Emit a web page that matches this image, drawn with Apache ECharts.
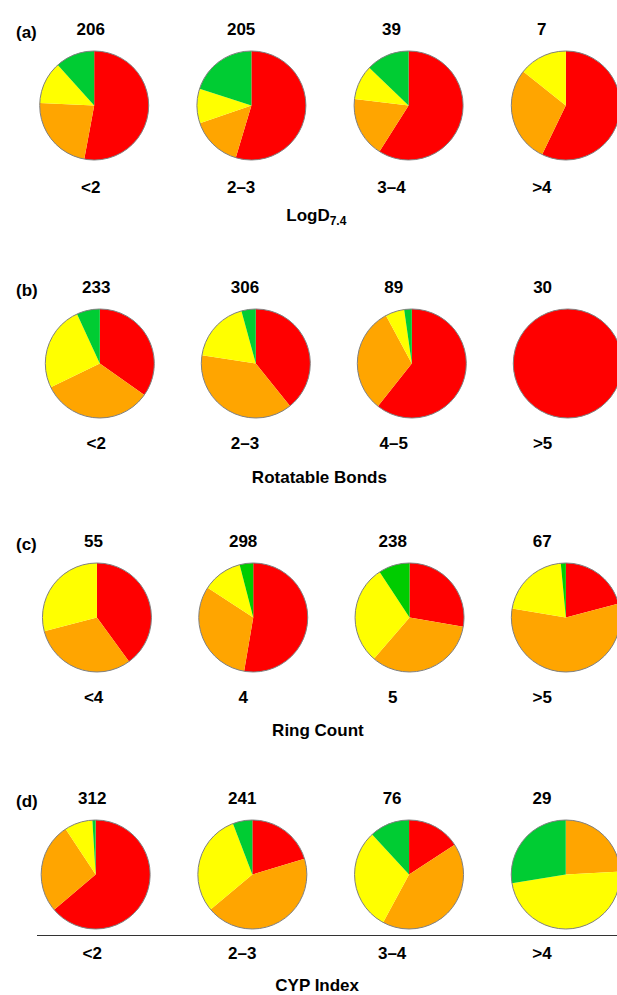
<!DOCTYPE html>
<html>
<head>
<meta charset="utf-8">
<script src="https://cdn.jsdelivr.net/npm/echarts@6/dist/echarts.min.js"></script>
<style>
  html, body { margin: 0; padding: 0; background: #fff; }
  #chart { width: 617px; height: 995px; }
</style>
</head>
<body>
<div id="chart"></div>
<script>
// Compound counts per bin, split by outcome class (red, orange, yellow, green)
const logDBins = ['<2', '2–3', '3–4', '>4'];
const logDRed    = [109, 112, 23, 4];
const logDOrange = [47, 31, 7, 2];
const logDYellow = [26, 21, 4, 1];
const logDGreen  = [24, 41, 5, 0];

const rotBins = ['<2', '2–3', '4–5', '>5'];
const rotRed    = [81, 120, 54, 30];
const rotOrange = [77, 117, 28, 0];
const rotYellow = [59, 56, 5, 0];
const rotGreen  = [16, 13, 2, 0];

const ringBins = ['<4', '4', '5', '>5'];
const ringRed    = [22, 157, 66, 14];
const ringOrange = [17, 94, 80, 38];
const ringYellow = [16, 35, 70, 14];
const ringGreen  = [0, 12, 22, 1];

const cypBins = ['<2', '2–3', '3–4', '>4'];
const cypRed    = [199, 49, 12, 0];
const cypOrange = [84, 105, 32, 7];
const cypYellow = [26, 73, 23, 14];
const cypGreen  = [3, 14, 9, 8];

const panelLetters = ['(a)', '(b)', '(c)', '(d)'];
const axisTitles = ['{t|LogD}{s|7.4}', 'Rotatable Bonds', 'Ring Count', 'CYP Index'];

const rows = [
  { bins: logDBins, red: logDRed, orange: logDOrange, yellow: logDYellow, green: logDGreen,
    greenColor: '#00CC33', left: 15.6, step: 157.2, top: 42.5, axisY: 166.5, letterTop: 19, nameGap: 37 },
  { bins: rotBins, red: rotRed, orange: rotOrange, yellow: rotYellow, green: rotGreen,
    greenColor: '#00CC33', left: 21.8, step: 156, top: 300.5, axisY: 422.5, letterTop: 277, nameGap: 46 },
  { bins: ringBins, red: ringRed, orange: ringOrange, yellow: ringYellow, green: ringGreen,
    greenColor: '#00CC00', left: 18.8, step: 156.3, top: 554.5, axisY: 676.5, letterTop: 531, nameGap: 45 },
  { bins: cypBins, red: cypRed, orange: cypOrange, yellow: cypYellow, green: cypGreen,
    greenColor: '#00CC33', left: 17.3, step: 156.7, top: 811.5, axisY: 935.5, letterTop: 788, nameGap: 44 }
];

const W = 617, H = 995;
const FONT = 'Liberation Sans, Arial, sans-serif';
const PIE_R = 54.5;

const grids = [], xAxes = [], yAxes = [], series = [], titles = [];

rows.forEach((row, r) => {
  const width = row.step * 4;
  grids.push({
    left: row.left,
    top: row.top,
    width: width,
    height: row.axisY - row.top,
    containLabel: false
  });
  const totals = row.bins.map((_, i) =>
    row.red[i] + row.orange[i] + row.yellow[i] + row.green[i]);

  // bottom axis: bin labels and the variable name
  xAxes.push({
    type: 'category', gridIndex: r, position: 'bottom', data: row.bins,
    axisLine: { show: false }, axisTick: { show: false },
    axisLabel: { margin: 12, fontFamily: FONT, fontWeight: 'bold', fontSize: 17, color: '#000' },
    name: axisTitles[r], nameLocation: 'middle', nameGap: row.nameGap,
    nameTextStyle: {
      fontFamily: FONT, fontWeight: 'bold', fontSize: 17, color: '#000',
      rich: {
        t: { fontFamily: FONT, fontWeight: 'bold', fontSize: 17, color: '#000' },
        s: { fontFamily: FONT, fontWeight: 'bold', fontSize: 12, color: '#000', padding: [11, 0, 0, 0] }
      }
    }
  });
  // top axis: number of compounds in each bin
  xAxes.push({
    type: 'category', gridIndex: r, position: 'top', data: totals.map(String),
    axisLine: { show: false }, axisTick: { show: false },
    axisLabel: { margin: 5, fontFamily: FONT, fontWeight: 'bold', fontSize: 17, color: '#000' }
  });
  yAxes.push({ type: 'value', gridIndex: r, show: false });

  titles.push({
    text: panelLetters[r], left: 11, top: row.letterTop,
    textStyle: { fontFamily: FONT, fontWeight: 'bold', fontSize: 17, color: '#000' }
  });

  row.bins.forEach((bin, i) => {
    const cx = row.left + (i + 0.5) * row.step;
    const cy = row.top + 63;
    series.push({
      type: 'pie', radius: [0, PIE_R], center: [cx, cy],
      startAngle: 90, clockwise: true, silent: true, animation: false,
      label: { show: false }, labelLine: { show: false },
      itemStyle: { borderWidth: 0 },
      data: [
        { name: 'red', value: row.red[i], itemStyle: { color: '#FF0000' } },
        { name: 'orange', value: row.orange[i], itemStyle: { color: '#FFA500' } },
        { name: 'yellow', value: row.yellow[i], itemStyle: { color: '#FFFF00' } },
        { name: 'green', value: row.green[i], itemStyle: { color: row.greenColor } }
      ]
    });
    // thin grey rim
    series.push({
      type: 'pie', radius: [0, PIE_R], center: [cx, cy],
      silent: true, animation: false,
      label: { show: false }, labelLine: { show: false },
      itemStyle: { color: 'rgba(0,0,0,0)', borderColor: '#808080', borderWidth: 1 },
      data: [{ name: 'rim', value: totals[i] }]
    });
  });
});

const chart = echarts.init(document.getElementById('chart'), null, { renderer: 'svg', width: W, height: H });
chart.setOption({
  backgroundColor: '#ffffff',
  animation: false,
  title: titles,
  grid: grids,
  xAxis: xAxes,
  yAxis: yAxes,
  series: series,
  graphic: [{
    type: 'line',
    shape: { x1: 37, y1: rows[3].axisY, x2: W, y2: rows[3].axisY },
    style: { stroke: '#333333', lineWidth: 1.2 }
  }]
});
</script>
</body>
</html>
